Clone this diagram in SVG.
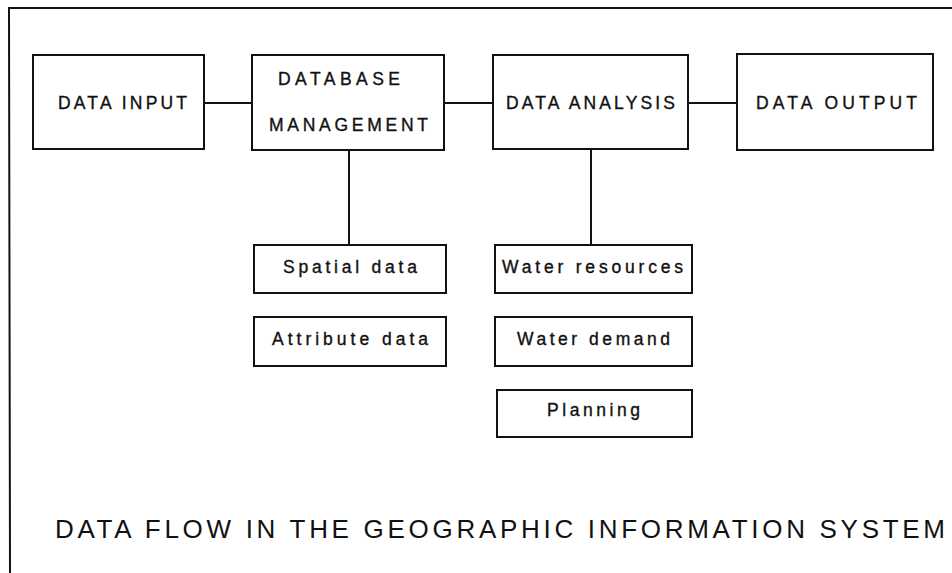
<svg xmlns="http://www.w3.org/2000/svg" width="952" height="573" viewBox="0 0 952 573">
<style>
.box{fill:#fff;stroke:#111;stroke-width:2}
.con{stroke:#111;stroke-width:2;fill:none}
.t{font-family:"Liberation Sans",Arial,sans-serif;font-size:17.5px;fill:#111;stroke:#111;stroke-width:0.35}
.title{font-family:"Liberation Sans",Arial,sans-serif;font-size:26px;fill:#111}
</style>
<rect width="952" height="573" fill="#fff"/>
<g id="frame"><path class="con" d="M10 573 L9 8 L952 8"/></g>
<g id="connectors">
<line class="con" x1="204" y1="103" x2="252" y2="103"/>
<line class="con" x1="444" y1="103" x2="493" y2="103"/>
<line class="con" x1="688" y1="103" x2="737" y2="103"/>
<line class="con" x1="349" y1="150" x2="349" y2="245"/>
<line class="con" x1="591" y1="149" x2="591" y2="245"/>
</g>
<g id="data-input"><rect class="box" x="33" y="55" width="171" height="94"/><text class="t" x="58" y="109" textLength="129" lengthAdjust="spacing">DATA INPUT</text></g>
<g id="database-management"><rect class="box" x="252" y="55" width="192" height="95"/><text class="t" x="278" y="85" textLength="122" lengthAdjust="spacing">DATABASE</text><text class="t" x="269" y="131" textLength="159" lengthAdjust="spacing">MANAGEMENT</text></g>
<g id="data-analysis"><rect class="box" x="493" y="55" width="195" height="94"/><text class="t" x="506" y="109" textLength="169" lengthAdjust="spacing">DATA ANALYSIS</text></g>
<g id="data-output"><rect class="box" x="737" y="54" width="196" height="96"/><text class="t" x="756" y="109" textLength="161" lengthAdjust="spacing">DATA OUTPUT</text></g>
<g id="spatial-data"><rect class="box" x="254" y="245" width="192" height="48"/><text class="t" x="283" y="273" textLength="134" lengthAdjust="spacing">Spatial data</text></g>
<g id="attribute-data"><rect class="box" x="254" y="317" width="192" height="49"/><text class="t" x="272" y="345" textLength="156" lengthAdjust="spacing">Attribute data</text></g>
<g id="water-resources"><rect class="box" x="495" y="245" width="197" height="48"/><text class="t" x="502" y="273" textLength="181" lengthAdjust="spacing">Water resources</text></g>
<g id="water-demand"><rect class="box" x="495" y="317" width="197" height="49"/><text class="t" x="517" y="345" textLength="153" lengthAdjust="spacing">Water demand</text></g>
<g id="planning"><rect class="box" x="497" y="390" width="195" height="47"/><text class="t" x="547" y="416" textLength="93" lengthAdjust="spacing">Planning</text></g>
<g id="title"><text class="title" x="55" y="538" textLength="890" lengthAdjust="spacing">DATA FLOW IN THE GEOGRAPHIC INFORMATION SYSTEM</text></g>
</svg>
